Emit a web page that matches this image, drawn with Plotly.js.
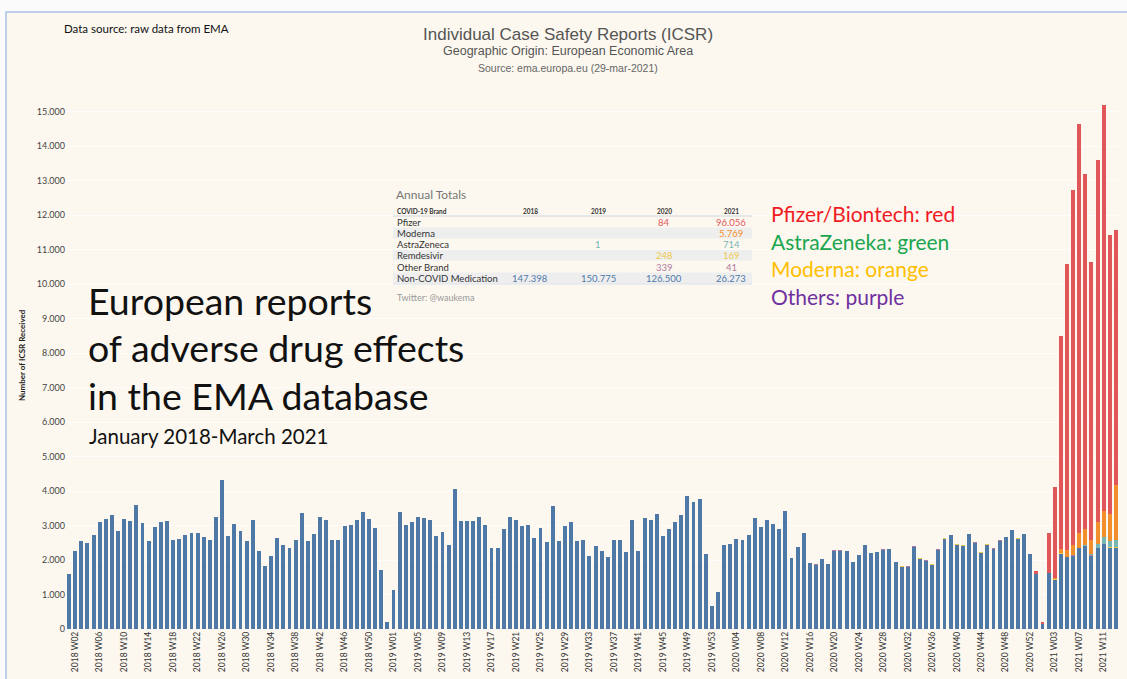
<!DOCTYPE html>
<html>
<head>
<meta charset="utf-8">
<script src="https://cdn.plot.ly/plotly-3.0.1.min.js"></script>
<style>
  html, body { margin: 0; padding: 0; background: #fbfbfb; }
  #chart { width: 1127px; height: 679px; }
</style>
</head>
<body>
<div id="chart"></div>
<script>
// ---------- DATA ----------
const years = [2018, 2019, 2020, 2021];
const weeksInYear = [53, 53, 53, 13];

// Non-COVID medication reports per week (blue)
const nonCovid2018 = [1600, 2250, 2550, 2500, 2720, 3100, 3200, 3300, 2830, 3200,
  3120, 3600, 3080, 2550, 2950, 3100, 3120, 2570, 2600, 2720,
  2780, 2780, 2670, 2570, 3240, 4310, 2700, 3050, 2850, 2550,
  3150, 2260, 1830, 2110, 2640, 2450, 2360, 2590, 3370, 2550,
  2750, 3260, 3150, 2590, 2570, 3000, 3030, 3150, 3380, 3180,
  2930, 1700, 190];
const nonCovid2019 = [1140, 3390, 3020, 3090, 3260, 3210, 3170, 2710, 2800, 2450,
  4070, 3140, 3120, 3120, 3240, 3020, 2350, 2350, 2900, 3240,
  3170, 2980, 3020, 2630, 2920, 2510, 3570, 2560, 2980, 3090,
  2540, 2580, 2130, 2420, 2270, 2090, 2580, 2580, 2220, 3170,
  2250, 3220, 3170, 3330, 2690, 2900, 3090, 3310, 3850, 3670,
  3760, 2170, 660];
const nonCovid2020 = [1060, 2430, 2470, 2620, 2570, 2730, 3220, 2960, 3150, 3040,
  2900, 3410, 2070, 2380, 2780, 1910, 1870, 2030, 1880, 2270,
  2270, 2270, 1940, 2150, 2440, 2200, 2230, 2300, 2320, 1930,
  1800, 1810, 2390, 2030, 1980, 1860, 2300, 2610, 2720, 2430,
  2410, 2750, 2500, 2200, 2430, 2330, 2560, 2660, 2860, 2610,
  2750, 2170, 1590];
const nonCovid2021 = [150, 1620, 1430, 2180, 2080, 2130, 2340, 2400, 2130, 2340, 2460, 2350, 2350];

// COVID-19 brands (first week of each series given separately)
const pfizerStart = '2020 W53';
const pfizer = [84, 60, 1160, 2650, 6200, 8310, 10290, 11850, 10290, 8050, 10490, 11760, 8070, 7390];
const modernaStart = '2021 W01';
const moderna = [0, 0, 20, 110, 190, 280, 430, 470, 420, 650, 760, 800, 1600];
const astraStart = '2021 W01';
const astra = [0, 0, 0, 0, 0, 0, 0, 10, 20, 100, 190, 180, 214];
const remdesivirStart = '2020 W27';
const remdesivir = [2, 4, 6, 8, 10, 9, 12, 10, 8, 11, 9, 10, 12, 14, 11, 9, 10, 12, 15, 18, 12, 9, 8, 6, 4, 3, 6,
  2, 16, 18, 17, 15, 14, 13, 12, 12, 13, 13, 12, 12];
const otherStart = '2020 W14';
const otherBrand = [3, 5, 8, 10, 12, 9, 8, 7, 6, 8, 7, 9, 8, 6, 7, 8, 9, 10, 8, 7,
  9, 8, 10, 11, 9, 8, 10, 9, 8, 11, 12, 10, 9, 8, 7, 9, 10, 12, 8, 7,
  0, 2, 3, 4, 3, 4, 3, 4, 3, 4, 4, 3, 4];

// Annual totals table
const tableYears = ['2018', '2019', '2020', '2021'];
const tableBrands = ['Pfizer', 'Moderna', 'AstraZeneca', 'Remdesivir', 'Other Brand', 'Non-COVID Medication'];
const totalsPfizer = [null, null, 84, 96056];
const totalsModerna = [null, null, null, 5769];
const totalsAstra = [null, 1, null, 714];
const totalsRemdesivir = [null, null, 248, 169];
const totalsOther = [null, null, 339, 41];
const totalsNonCovid = [147398, 150775, 126500, 26273];

const yTicks = [0, 1000, 2000, 3000, 4000, 5000, 6000, 7000, 8000, 9000, 10000, 11000, 12000, 13000, 14000, 15000];

// ---------- BUILD ----------
const labels = [];
years.forEach((y, i) => {
  for (let w = 1; w <= weeksInYear[i]; w++) labels.push(y + ' W' + (w < 10 ? '0' + w : w));
});
const tickLabels = labels.filter((_, i) => i % 4 === 1);
const from = (start, n) => { const s = labels.indexOf(start); return labels.slice(s, s + n); };

const C = { blue: '#4e79a7', red: '#e15759', orange: '#f28e2b', teal: '#76b7b2', yellow: '#edc948', purple: '#b07aa1' };

const traces = [
  { name: 'Non-COVID Medication', x: labels, y: [].concat(nonCovid2018, nonCovid2019, nonCovid2020, nonCovid2021), color: C.blue },
  { name: 'Other Brand', x: from(otherStart, otherBrand.length), y: otherBrand, color: C.purple },
  { name: 'Remdesivir', x: from(remdesivirStart, remdesivir.length), y: remdesivir, color: C.yellow },
  { name: 'AstraZeneca', x: from(astraStart, astra.length), y: astra, color: C.teal },
  { name: 'Moderna', x: from(modernaStart, moderna.length), y: moderna, color: C.orange },
  { name: 'Pfizer', x: from(pfizerStart, pfizer.length), y: pfizer, color: C.red }
].map(t => ({ type: 'bar', name: t.name, x: t.x, y: t.y, marker: { color: t.color, line: { width: 0 } }, hoverinfo: 'x+y+name' }));

// pixel -> paper helpers
const W = 1127, H = 679, M = { l: 66, r: 8, t: 98, b: 50 };
const PW = W - M.l - M.r, PH = H - M.t - M.b;
const px = x => (x - M.l) / PW;
const py = y => (H - M.b - y) / PH;

const ann = [];
function txt(text, x, y, size, color, family, xanchor, extra) {
  ann.push(Object.assign({ text: text, x: px(x), y: py(y), xref: 'paper', yref: 'paper', showarrow: false,
    xanchor: xanchor || 'left', yanchor: 'middle', font: { size: size, color: color, family: family } }, extra || {}));
}
const fmt = v => String(v).replace(/\B(?=(\d{3})+(?!\d))/g, '.');

// header texts
txt('Data source: raw data from EMA', 62, 29, 11.5, '#111', 'Lato');
txt('Individual Case Safety Reports (ICSR)', 568, 34, 17, '#555', 'Liberation Sans', 'center');
txt('Geographic Origin: European Economic Area', 568, 51, 12.5, '#555', 'Liberation Sans', 'center');
txt('Source: ema.europa.eu (29-mar-2021)', 568, 68, 10.5, '#666', 'Liberation Sans', 'center');

// big description text
txt('European reports', 86, 300, 37.5, '#111', 'Lato');
txt('of adverse drug effects', 86, 347, 37.5, '#111', 'Lato');
txt('in the EMA database', 86, 395, 37.5, '#111', 'Lato');
txt('January 2018-March 2021', 87, 436, 20.5, '#111', 'Lato');

// colour key text
txt('Pfizer/Biontech: red', 769, 213, 21, '#f01c24', 'Lato');
txt('AstraZeneka: green', 769, 241, 21, '#1aa64e', 'Lato');
txt('Moderna: orange', 769, 268, 21, '#ffbf00', 'Lato');
txt('Others: purple', 769, 296, 21, '#7030a0', 'Lato');

// y-axis title
txt('<b>Number of ICSR Received</b>', 22, 355, 8, '#222', 'Lato', 'center', { textangle: -90 });

// table
const shapes = [];
// page background with border
shapes.push({ type: 'rect', xref: 'paper', yref: 'paper', x0: px(6), x1: px(1140), y0: py(12), y1: py(700),
  fillcolor: '#fcf8ef', line: { color: '#a9c1e3', width: 1.5 }, layer: 'below' });

txt('Annual Totals', 394, 194, 12, '#777', 'Lato');
const colX = [530, 598, 664, 731];
const rowY = [222, 233, 244, 255, 267, 278];
txt('<b>COVID-19 Brand</b>', 395, 211, 6.5, '#333', 'Lato');
tableYears.forEach((y, i) => txt('<b>' + y + '</b>', colX[i], 211, 6.5, '#333', 'Lato', 'center'));
shapes.push({ type: 'line', xref: 'paper', yref: 'paper', x0: px(393), x1: px(752), y0: py(216), y1: py(216), line: { color: '#cfd4da', width: 1 } });
rowY.forEach((y, i) => {
  if (i % 2 === 1) shapes.push({ type: 'rect', xref: 'paper', yref: 'paper', x0: px(393), x1: px(752), y0: py(y - 5.5), y1: py(y + 5.5),
    fillcolor: 'rgba(225,230,238,0.55)', line: { width: 0 }, layer: 'below' });
});
shapes.push({ type: 'line', xref: 'paper', yref: 'paper', x0: px(393), x1: px(752), y0: py(284), y1: py(284), line: { color: '#d8dde3', width: 1 } });
const tableRows = [
  [totalsPfizer, C.red], [totalsModerna, C.orange], [totalsAstra, C.teal],
  [totalsRemdesivir, C.yellow], [totalsOther, C.purple], [totalsNonCovid, C.blue]
];
tableBrands.forEach((b, r) => {
  txt(b, 395, rowY[r], 9.5, '#333', 'Lato');
  tableRows[r][0].forEach((v, c) => { if (v !== null) txt(fmt(v), colX[c], rowY[r], 9.5, tableRows[r][1], 'Lato', 'center'); });
});
txt('Twitter: @waukema', 395, 297, 9, '#999', 'Lato');

const layout = {
  width: W, height: H, margin: M,
  paper_bgcolor: '#fbfbfb', plot_bgcolor: 'rgba(0,0,0,0)',
  barmode: 'stack', bargap: 0.36, showlegend: false, separators: ',.',
  xaxis: {
    type: 'category', categoryorder: 'array', categoryarray: labels,
    range: [-0.5, labels.length - 0.5],
    tickmode: 'array', tickvals: tickLabels, ticktext: tickLabels, tickangle: -90,
    tickfont: { family: 'Lato', size: 8.5, color: '#333' },
    showgrid: false, zeroline: false, showline: false, ticks: ''
  },
  yaxis: {
    range: [0, 15400], tickmode: 'array', tickvals: yTicks, tickformat: ',d',
    tickfont: { family: 'Lato', size: 9, color: '#444' },
    showgrid: true, gridcolor: 'rgba(255,255,255,0.75)', zeroline: false, showline: false, ticks: ''
  },
  annotations: ann,
  shapes: shapes
};

Plotly.newPlot('chart', traces, layout, { displayModeBar: false, staticPlot: true });
</script>
</body>
</html>
